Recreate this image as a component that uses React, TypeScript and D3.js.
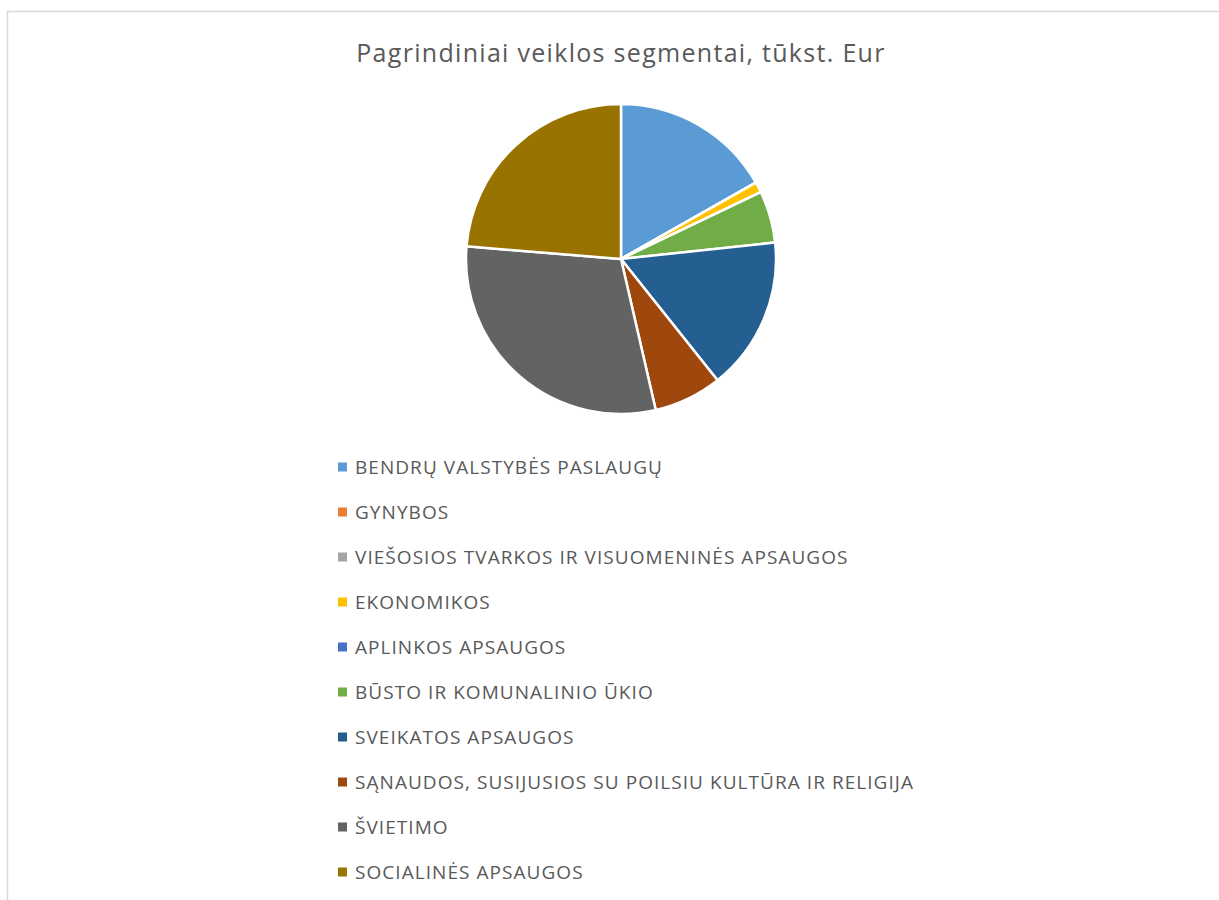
import * as d3 from "d3";
import { useRef, useEffect } from "react";

// segment names (legend order = slice order, clockwise from 12 o'clock)
const segments = [
  "BENDRŲ VALSTYBĖS PASLAUGŲ",
  "GYNYBOS",
  "VIEŠOSIOS TVARKOS IR VISUOMENINĖS APSAUGOS",
  "EKONOMIKOS",
  "APLINKOS APSAUGOS",
  "BŪSTO IR KOMUNALINIO ŪKIO",
  "SVEIKATOS APSAUGOS",
  "SĄNAUDOS, SUSIJUSIOS SU POILSIU KULTŪRA IR RELIGIJA",
  "ŠVIETIMO",
  "SOCIALINĖS APSAUGOS",
];
// tūkst. Eur
const amounts = [5040, 0, 0, 330, 0, 1620, 4800, 2130, 8970, 7110];
const colors = [
  "#5B9BD5", "#ED7D31", "#A5A5A5", "#FFC000", "#4472C4",
  "#70AD47", "#255E91", "#9E480E", "#636363", "#997300",
];
const title = "Pagrindiniai veiklos segmentai, tūkst. Eur";

export default function App() {
  const svgRef = useRef<SVGSVGElement>(null);
  const width = 1219;
  const height = 900;

  useEffect(() => {
    const svg = d3.select(svgRef.current);
    svg.selectAll("*").remove();

    // chart area border
    svg.append("rect")
      .attr("x", 7.5)
      .attr("y", 11.5)
      .attr("width", 1300)
      .attr("height", 1000)
      .attr("fill", "white")
      .attr("stroke", "#D9D9D9")
      .attr("stroke-width", 1.5);

    svg.append("text")
      .attr("x", 621)
      .attr("y", 62)
      .attr("text-anchor", "middle")
      .attr("fill", "#595959")
      .style("font-family", "'Open Sans', sans-serif")
      .style("font-size", "25px")
      .style("letter-spacing", "1.3px")
      .text(title);

    const cx = 621, cy = 259, r = 155;
    const pie = d3.pie<number>().sort(null).value(d => d);
    const arc = d3.arc<d3.PieArcDatum<number>>().innerRadius(0).outerRadius(r);

    svg.append("g")
      .attr("transform", `translate(${cx},${cy})`)
      .selectAll("path")
      .data(pie(amounts))
      .join("path")
      .attr("d", arc)
      .attr("fill", (d, i) => colors[i])
      .attr("stroke", "white")
      .attr("stroke-width", 2.5)
      .attr("stroke-linejoin", "round");

    const legend = svg.append("g").attr("transform", "translate(338,467)");
    const rows = legend.selectAll("g")
      .data(segments)
      .join("g")
      .attr("transform", (d, i) => `translate(0,${i * 45})`);

    rows.append("rect")
      .attr("x", 0)
      .attr("y", -4.5)
      .attr("width", 9)
      .attr("height", 9)
      .attr("fill", (d, i) => colors[i]);

    rows.append("text")
      .attr("x", 17)
      .attr("y", 0)
      .attr("dy", "0.35em")
      .attr("fill", "#595959")
      .style("font-family", "'Open Sans', sans-serif")
      .style("font-size", "19px")
      .style("letter-spacing", "1.05px")
      .text(d => d);
  }, []);

  return (
    <svg
      ref={svgRef}
      width={width}
      height={height}
      style={{ position: "absolute", left: 0, top: 0 }}
    ></svg>
  );
}
